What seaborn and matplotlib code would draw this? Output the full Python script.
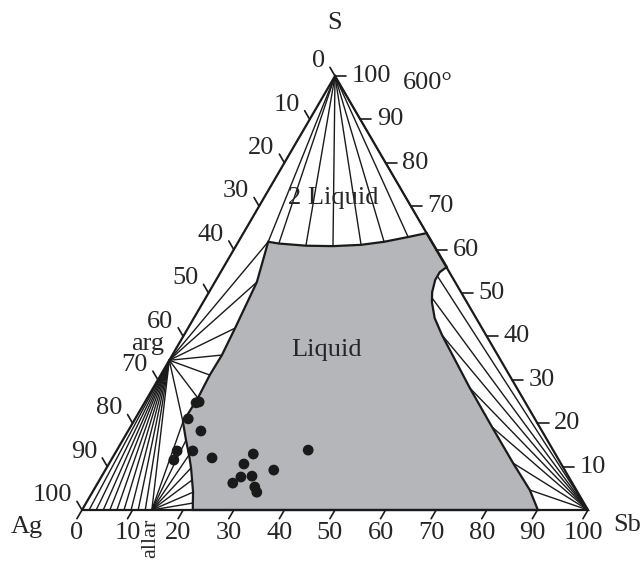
import numpy as np
import pandas as pd
import matplotlib
matplotlib.use("Agg")
import matplotlib.pyplot as plt
import seaborn as sns

# Ag-Sb-S section at 600 C, compositions in at.% given as (Sb, S); Ag is the rest

# measured samples
sample_sb = [10.2, 10.7, 10.5, 14.4, 12.0, 12.4, 15.1, 19.7, 27.4, 26.7, 27.6, 29.7, 26.7, 31.5, 32.5, 33.3, 37.8]
sample_s = [24.7, 24.9, 21.0, 18.2, 13.6, 11.5, 13.6, 12.0, 12.9, 10.6, 7.6, 7.8, 6.2, 5.3, 4.1, 9.2, 13.8]

# liquid field outline, clockwise from its top-left corner
liq_sb = [5.9, 8.2, 13.8, 19.2, 24.6, 28.8, 33.0, 36.2, 44.1, 43.3, 43.3, 44.1, 45.2, 47.6, 51.0,
          62.6, 71.5, 79.8, 86.2, 90.1, 21.9, 21.1, 19.9, 18.3, 16.7, 14.8, 12.5, 9.8,
          10.0, 9.7, 9.8, 9.3, 8.3]
liq_s = [61.8, 61.4, 60.9, 60.8, 61.1, 61.8, 62.9, 63.8, 56.0, 54.8, 53.0, 50.2, 47.9, 44.2, 40.3,
         28.1, 19.1, 10.8, 4.6, 0.0, 0.0, 1.6, 4.1, 6.9, 9.7, 12.7, 16.1, 20.3,
         25.8, 31.1, 35.7, 41.9, 52.5]

# phases
arg = (0.0, 34.5)      # argentite
allar = (13.8, 0.0)    # allargentum
s_corner = (0.0, 100.0)
sb_corner = (100.0, 0.0)

# tie-line ends
two_liq_sb = [5.9, 8.2, 13.8, 19.2, 24.6, 28.8, 33.0, 36.2]
two_liq_s = [61.8, 61.4, 60.9, 60.8, 61.1, 61.8, 62.9, 63.8]
arg_liq_sb = [5.9, 8.3, 9.3, 9.8, 9.7, 10.0, 9.8]
arg_liq_s = [61.8, 52.5, 41.9, 35.7, 31.1, 25.8, 20.3]
arg_ag_sb = [1.4, 2.8, 4.2, 5.5, 6.9, 8.3, 9.7, 11.1, 12.5, 13.8]
allar_liq_sb = [9.8, 12.5, 14.8, 16.7, 18.3, 19.9, 21.1]
allar_liq_s = [20.3, 16.1, 12.7, 9.7, 6.9, 4.1, 1.6]
sb_liq_sb = [43.5, 44.7, 51.0, 62.6, 71.5, 79.8, 86.2]
sb_liq_s = [53.7, 48.9, 40.3, 28.1, 19.1, 10.8, 4.6]

ticks = list(range(0, 101, 10))


def xy(sb, s):
    sb = np.asarray(sb, dtype=float)
    s = np.asarray(s, dtype=float)
    return sb + s / 2, s


sns.set_style("white")
plt.rcParams['font.family'] = ['Liberation Serif', 'DejaVu Serif']
fs = 19
ink = '#1a1a1a'

fig = plt.figure(figsize=(6.41, 5.66), dpi=100)
ax = fig.add_axes([0, 0, 1, 1])
ax.set_xlim(-16.206, 110.474)
ax.set_ylim(-12.903, 117.512)
ax.axis('off')

# tie lines
def fan(origin, ends_sb, ends_s):
    ox, oy = xy(*origin)
    ex, ey = xy(ends_sb, ends_s)
    for x2, y2 in zip(ex, ey):
        ax.plot([ox, x2], [oy, y2], color=ink, lw=1.0, zorder=1)

fan(s_corner, two_liq_sb, two_liq_s)
fan(arg, arg_liq_sb, arg_liq_s)
fan(arg, arg_ag_sb, [0.0] * len(arg_ag_sb))
fan(allar, allar_liq_sb, allar_liq_s)
fan(sb_corner, sb_liq_sb, sb_liq_s)

# liquid field
lx, ly = xy(liq_sb, liq_s)
ax.fill(lx, ly, facecolor='#b5b6ba', edgecolor=ink, lw=1.6, zorder=2)

# triangle frame
tx, ty = xy([0, 100, 0, 0], [0, 0, 100, 0])
ax.plot(tx, ty, color=ink, lw=1.6, zorder=3, solid_joinstyle='miter')

# ticks and labels
for v in ticks:
    # bottom: Sb
    bx, by = xy(v, 0)
    ax.plot([bx, bx - 1.0], [by, by - 2.0], color=ink, lw=1.2)
    ax.text(bx - 1.0, by - 5.3, str(v), ha='center', va='center', fontsize=fs)
    # left: Ag
    lx0, ly0 = xy(0, 100 - v)
    ax.plot([lx0, lx0 - 1.0], [ly0, ly0 + 2.0], color=ink, lw=1.2)
    ax.text(lx0 - 2.0, ly0 + 3.4, str(v), ha='right', va='center', fontsize=fs)
    # right: S (no label at the Sb corner)
    if v == 0:
        continue
    rx, ry = xy(100 - v, v)
    ax.plot([rx, rx + 2.2], [ry, ry], color=ink, lw=1.2)
    ax.text(rx + 3.3, ry, str(v), ha='left', va='center', fontsize=fs)

# samples
pts = pd.DataFrame({'sb': sample_sb, 's': sample_s})
pts['x'], pts['y'] = xy(pts['sb'], pts['s'])
sns.scatterplot(data=pts, x='x', y='y', ax=ax, color=ink, s=60, edgecolor='none', zorder=5, legend=False)

# annotations
ax.text(50.0, 112.2, 'S', ha='center', va='center', fontsize=fs)
ax.text(-10.9, -3.9, 'Ag', ha='center', va='center', fontsize=fs)
ax.text(107.7, -3.45, 'Sb', ha='center', va='center', fontsize=fs)
ax.text(68.4, 98.4, '600°', ha='center', va='center', fontsize=fs)
ax.text(13.0, 38.3, 'arg', ha='center', va='center', fontsize=fs)
ax.text(13.6, -2.1, 'allar', ha='center', va='top', rotation=90, fontsize=16)
ax.text(49.6, 71.9, '2 Liquid', ha='center', va='center', fontsize=fs, zorder=4)
ax.text(48.4, 36.9, 'Liquid', ha='center', va='center', fontsize=fs, zorder=4)

fig.savefig('out.png', dpi=100)
